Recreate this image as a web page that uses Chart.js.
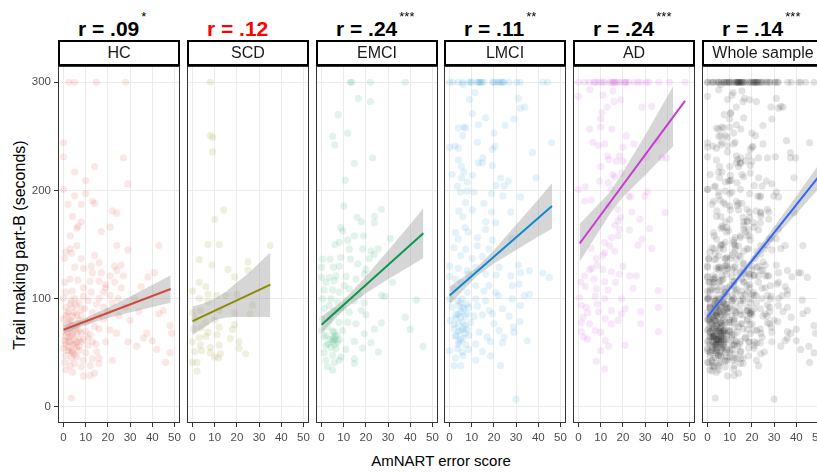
<!DOCTYPE html>
<html>
<head>
<meta charset="utf-8">
<script src="https://cdn.jsdelivr.net/npm/chart.js@4.4.1/dist/chart.umd.min.js"></script>
<style>
    html, body { margin: 0; padding: 0; background: #fff; overflow: hidden; }
    body { width: 817px; height: 474px; position: relative; font-family: "Liberation Sans", Arial, sans-serif; }
    canvas { position: absolute; }
    .strip { position: absolute; top: 40px; width: 122px; height: 26px; box-sizing: border-box; border: 2px solid #000; background: #fff;
             text-align: center; font-size: 16px; line-height: 22px; color: #1a1a1a; z-index: 2; white-space: nowrap; overflow: hidden; }
    .rlab { position: absolute; top: 18px; font-weight: bold; font-size: 21px; line-height: 21px; white-space: nowrap; color: #000; }
    .rlab span { font-size: 13px; font-weight: normal; position: relative; top: -15px; margin-left: 2px; }
    .xtitle { position: absolute; left: 341px; width: 200px; top: 452px; text-align: center; font-size: 15px; line-height: 18px; }
    .ytitle { position: absolute; left: -130px; top: 235px; width: 300px; height: 20px; line-height: 20px; text-align: center;
              font-size: 16px; transform: rotate(-90deg); }
</style>
</head>
<body>
<div class="ytitle">Trail making part-B (seconds)</div>
<div class="xtitle">AmNART error score</div>

<script>
// ---------- data ----------
const groups = ['HC', 'SCD', 'EMCI', 'LMCI', 'AD', 'Whole sample'];
const rLabels = ['r = .09', 'r = .12', 'r = .24', 'r = .11', 'r = .24', 'r = .14'];
const rStars = ['*', '', '***', '**', '***', '***'];
const xTicks = [0, 10, 20, 30, 40, 50];
const yTicks = [0, 100, 200, 300];

// [AmNART errors, TMT-B seconds]
const hcPoints = [
    [2.4,300],[5,300],[14.8,300],[28,300],
    [0,244],[0,231],[5,217],[14,222],[27,230],[10,209],[29,206],[0,201],[5,195],[10,197],[13,190],[14,188],[2,187],[8,187],
    [4,176],[22,181],[24,179],[8,171],[6.5,167],[6,165],[21,166],[17,162],[3,158],[6,149],[3,146],[1,143],[3.5,142],[24,149],
    [29,145],[43,149],[0.5,137],[8,137],[14,140],[5,129],[9,128],[16,133],[12.5,130],[23,130],[26,131],[13,124],[17,124],
    [21,121],[24,126],[27,121],[41,124],[0.5,115],[3,118],[6.5,117],[12,116],[16,116],[19,113],[35,111],[1,106],[4,107],
    [9,110],[12.5,106],[18,106],[21,103],[24.6,100],[0,100],[3.5,98],[7,96],[11,98],[15,95],[1,92],[5.7,94],[9.5,91],[2,86],
    [5,87],[8,84],[13,87],[18,81],[43,86],[45,89],[0,81],[3.5,79],[6.5,77],[10,78],[16,72],[21,71],[24,68],[48,75],[48.7,68],
    [1,69],[4,66],[7,70.5],[12,66.6],[0.5,61],[3,60],[5,57],[8,60],[11,57],[14.5,58],[19,60],[29,60],[33,56],[36,63.5],
    [37.5,68],[40,61],[0,54],[2,52],[4,51],[7,52],[10,50],[15,51],[42,53],[1,47.5],[3.5,45],[6,46],[9,43],[13,44.5],[16,45],
    [22,43],[48,50],[0.5,41],[3,38],[5,40],[8,37],[12,38],[16,40],[46,41],[1,34],[4,32],[9,28.5],[12,29],[14,31],[3.5,8],
    [2,70],[3,65],[4,75],[5,62],[6,68],[1,58],[2,55],[4,58],[6,55],[3,80],[5,72],[7,62],[2,64],[3,72],[4,50],[1,75],[8,68],
    [9,62],[6,85],[2,88],[4,92],[7,80],[3,95],[5,100],[1,84],[10,70],[11,64],[12,80],[8,90],[9,102],[13,60],[14,74],[16,85],
    [18,92],[20,88],[22,96],[25,84],[26,110],[28,92],[30,80],[32,100],[34,88],[38,120],[16,100],[19,110],[23,115],[1,65],
    [2,60],[3,52],[4,68],[5,48],[6,60],[7,56],[2,78],[4,84],[6,74]
];
const scdPoints = [
    [8,300],[8,250.6],[9,249],[9,235.6],[14,182],[10,173],[7,150],[12,150],[35,149],[3,136],[8.7,131],[16,127],[25,134],
    [25,126],[19,120],[3,115],[6,111],[0,107],[7,104],[11,103],[15,103],[20,104],[3,100],[7,97],[27,94],[26,86],[0,87],
    [3.5,89],[12,89],[19,87],[1,81],[6,78],[10,80],[19,76],[18,71.5],[0.5,72],[4,73],[7,69],[12,73.6],[3,64],[6,65],[11,66.6],
    [17,63],[0,60],[3.5,57],[8,55],[12,57],[21,60],[21,54],[1,51],[4,52],[8,50],[12.5,49],[24,49],[10,46],[11.7,45],[0,41],
    [2,41],[2,33]
];
const emciPoints = [
    [13,300],[13.6,300],[22,300],[37.7,300],[16.6,285],[22,282],[7.5,270],[5,250],[11.8,253],[6,242],[14.8,225],[23,230],
    [10.7,209.5],[10,185.6],[27,182.5],[16,175],[18,171],[24,176],[23.8,170],[8.7,165.6],[9.5,162.6],[14.8,158],[19,158],
    [31,155.5],[11.8,154],[6,150],[8,152],[12.5,145.7],[18.5,146],[22.3,144],[25.6,146],[0.5,136.5],[3.8,136.5],[8.7,138],
    [13,136.5],[23.8,141],[21.5,137],[0,129],[5.4,129],[8,130],[16.3,132],[20,127],[0,119.6],[3.5,119.6],[6.5,121],[11,120.5],
    [19.3,122.7],[2,115],[5.7,116.6],[10.3,112],[15.5,118],[32,115],[1.2,108],[5,108],[8,106],[12.5,109],[17,104],[27,103],
    [28.6,102],[42.7,98.8],[0.5,99.7],[4.2,99.7],[7.2,96.6],[11,98],[14.8,98],[19.3,96],[1.2,91],[3.5,93.6],[5.7,89],[8.7,90.5],
    [12.5,87.4],[18,89],[20,85],[0.5,81],[3.5,79.8],[8,78],[11.8,78],[15.5,76.7],[27,77.6],[37.7,82.8],[40,71.5],[0,70.5],
    [2.7,73.6],[5.7,69],[9.5,70.5],[23.8,72],[19.3,67.5],[1.2,64.4],[5,63.5],[6,62],[7.2,59.8],[14.8,60.4],[22.3,59.2],
    [45.7,55.8],[2,56.7],[4.2,55],[6.5,53.7],[11,53],[18.5,54.3],[25.6,50.6],[1.2,50],[5,47.5],[8.7,46],[14.8,44.5],[2,43],
    [5.7,40.8],[8,43],[14.8,40],[2.7,36.8],[5,34],
    [5,60],[6,58],[6,65],[4,62],[7,66],[5,70],[3,58],[8,62],[2,66],[4,84],[7,88],[10,92]
];
const lmciPoints = [
    [0,300],[1.5,300],[4,300],[6,300],[8.7,300],[9.5,300],[12.5,300],[13.6,300],[14.5,300],[15.5,300],[19.3,300],[20.8,300],
    [22.6,300],[23.5,300],[24.6,300],[26.8,300],[30.2,300],[31.7,300],[42,300],[44.2,300],[10,300],[13,300],[14,300],[20,300],
    [22,300],[24,300],
    [6,298],[11.5,290.5],[31,285],[9,284],[32,276],[34,277],[10.3,271],[16.3,267],[29,266],[4,257.7],[6.5,258.6],[7.2,257.7],
    [13,260.7],[25,260],[20,253],[6,250.6],[12.5,244.5],[0,240],[2.4,241],[4,239],[19.3,238],[20.5,240.8],[37.4,235],[46,244],
    [15,230],[4,228],[13,225.5],[14.8,225.5],[19.3,223],[5.4,222],[6.5,217],[10.3,214],[1.2,214.7],[5.4,211.7],[23,211.7],
    [39,211.7],[26.5,208.6],[8,207.7],[3.5,204],[21,204.6],[24.6,204],[5,198.5],[8,199.4],[11,198.5],[19,197],[24,194.8],
    [32,194],[15.5,188],[7.2,188.7],[4.2,181],[10.3,182],[19,180],[27.6,180],[6,175.8],[16.3,171],[20.8,170],[7,165.6],
    [16.3,164],[2.7,161],[8.4,161.6],[4,155],[12.5,156.4],[19.3,154],[28,155.5],[2,147],[7.2,145.7],[12.5,148.8],[17.8,146],
    [5,139.6],[10.3,137],[14.8,139],[0,130],[4,128],[8,125.8],[11.8,128.8],[22.3,128.8],[31,131],[0,120.5],[2.7,118],
    [8.4,122.7],[16.3,122.7],[21,121.8],[27.6,121],[32,124],[36,125.8],[42,123.6],[45,119.6],[5,115],[11.8,112],[17.8,112],
    [28.3,112],[31.4,113.5],[2,109],[8,105.8],[15.5,107],[20.8,105.8],[22,102.8],[33.6,102.8],[36,104],[0,99.7],[3.5,98],
    [5.7,99.7],[11.8,99.7],[16.3,98],[28.3,99.7],[1.2,92],[4.2,93.6],[6.5,90.5],[8.7,92],[12.5,93],[18,89],[23.8,90.5],
    [32,93.6],[2.7,85],[5,82.8],[8,86],[11,83.7],[14.8,85],[19.3,86],[26.8,83.7],[0.5,79.8],[4,76.7],[7,75],[9.5,78],[20,76.7],
    [31.7,78.8],[28.8,73.6],[2,72],[5,70.5],[8,72],[13.3,69],[22.3,70.5],[29,69],[2.7,65],[6,63.5],[8.7,66],[17,64.4],
    [24.6,64.4],[35,61],[4.2,60],[7.2,57.4],[11.8,58],[18.5,60],[23.8,59],[0,52],[3.5,53.7],[5.7,50.6],[8.7,53],[14.8,51],
    [6,47],[2.7,45],[11.8,43],[18.5,47],[23,38],[2,38],[5,38],[30,7],
    [4,70],[5,88],[6,78],[3,82],[7,68],[5,62],[6,92],[4,58],[7,84],[3,66],[8,95],[2,76],[6,72],[5,96],[4,86]
];
const adPoints = [
    [0,300],[2.7,300],[5,300],[7,300],[7.5,300],[8.7,300],[11.8,300],[14,300],[14.8,300],[15.5,300],[16.3,300],[17,300],
    [19,300],[20.8,300],[21.5,300],[22.6,300],[25.3,300],[26.8,300],[28.3,300],[30.6,300],[31.7,300],[36.2,300],[41,300],
    [48,300],[10,300],[11,300],[16,300],[18,300],[21,300],
    [5,293],[15.5,292],[0,287],[11,288],[19,283.7],[16,282],[13,277],[28.6,277],[33,277.6],[10.5,272],[10,266],[10,258.6],
    [5,256.7],[15,256.7],[21.6,250.6],[6.5,244.5],[9,241.4],[11.8,243],[20,240],[25,243],[35.6,246],[13,232],[18.5,232],
    [37.4,230],[39.7,230],[30.6,231],[13.6,228.5],[10,222],[17,227],[20,227],[15.5,214.7],[16.3,212.6],[19.3,216],[9.5,208.6],
    [13.3,207],[3,203.4],[0,201],[14.8,201],[31,198.5],[2.7,190],[5.7,191],[22.6,194.8],[23.5,194],[29.8,194.8],[13.3,186],
    [39,179.4],[17.8,182.5],[19,175],[24,180],[17.8,171.8],[27.6,173.3],[16.3,167.8],[18.5,164],[23,163.5],[32,164.7],
    [14.8,156.4],[17.8,158],[28.6,155],[11.8,151.8],[14,148.8],[26.8,149.4],[33,146.3],[5.7,146.3],[11.8,142.6],[16.3,144],
    [8,137],[11,140],[5,126.7],[6,128],[8.4,131],[11,127],[20,129.8],[2.7,121],[14.8,124.8],[18.5,122.7],[23,121],[26,121],
    [1,115],[7,118],[11.8,115.6],[16.6,115],[24.6,109.5],[36,107.4],[3,111],[8,109],[13.3,108],[0.5,101],[7.5,102],[11.8,99.7],
    [19.3,99.7],[1.2,94],[3.5,92],[8.4,95],[14.8,89],[21,90.5],[36,92],[4,86.8],[9,88],[19.3,86],[28,88],[2,82.8],[12,81.3],
    [17.8,79.8],[14.8,76.7],[1.2,77.6],[5,76.7],[28,76.7],[1.2,69.6],[7.5,70.5],[10,69],[36,69.6],[2.4,64.4],[4,62.3],
    [12,61.3],[13.6,56],[21,56.7],[10,52],[8,42],[11.8,35]
];
const wholePoints = [...hcPoints, ...scdPoints, ...emciPoints, ...lmciPoints, ...adPoints];
const allPoints = [hcPoints, scdPoints, emciPoints, lmciPoints, adPoints, wholePoints];

// regression line ends [x, y]
const hcFit = [[0, 71.2], [48.3, 108.9]];
const scdFit = [[0, 79.1], [35.1, 112.9]];
const emciFit = [[0, 75.8], [45.9, 160.4]];
const lmciFit = [[0, 102.8], [46.2, 185.6]];
const adFit = [[0.5, 150.9], [48, 282.8]];
const wholeFit = [[0, 83.4], [50, 212.5]];
const allFits = [hcFit, scdFit, emciFit, lmciFit, adFit, wholeFit];

// confidence band [x, lower, upper]
const hcBand = [[0,67.3,75.1],[8,74.4,80.4],[20,82.1,91.5],[30,87.2,102],[40,92.2,112.6],[48.3,96.2,121.6]];
const scdBand = [[0,66,93],[5,73,95.5],[10,80,100],[15,82.5,106],[20,83,115],[25,83,123],[30,83,133],[35.1,83,142.5]];
const emciBand = [[0,68.1,83.5],[10,89.7,98.7],[20,105,120.4],[30,117.8,144.4],[40,130.2,168.8],[45.9,137.4,183.4]];
const lmciBand = [[0,94.6,111],[12,120.3,128.3],[20,132.4,144.6],[30,145,168.2],[40,157.3,191.7],[46.2,164.6,206.6]];
const adBand = [[0.5,134,169],[14,178,198],[20,194,217],[30,214,251],[42.7,240.8,296.6]];
const wholeBand = [[0,79,88],[10,106.5,111.9],[20,131.5,138.5],[30,155.5,166.3],[40,178.5,194.7],[50,201.5,223.5]];
const allBands = [hcBand, scdBand, emciBand, lmciBand, adBand, wholeBand];

// ---------- styling ----------
const pointColors = ['rgba(215,75,60,0.13)', 'rgba(150,150,40,0.14)', 'rgba(20,160,90,0.12)',
                     'rgba(30,150,215,0.12)', 'rgba(200,70,210,0.12)', 'rgba(0,0,0,0.11)'];
const lineColors = ['#d24a3c', '#8c8c00', '#07994e', '#0a8ad2', '#c83ad2', '#3366ff'];
const panelLeft = [58, 187, 316, 444, 573, 702];
const panelW = 122;
const FONT = "'Liberation Sans', Arial, sans-serif";

const framePlugin = {
    id: 'frame',
    afterDraw(chart) {
        const { ctx, chartArea: a } = chart;
        ctx.save();
        ctx.strokeStyle = '#333333';
        ctx.lineWidth = 1;
        ctx.strokeRect(Math.round(a.left) + 0.5, Math.round(a.top) + 0.5, Math.round(a.width) - 1, Math.round(a.height) - 1);
        ctx.restore();
    }
};

const xy = arr => arr.map(p => ({ x: p[0], y: p[1] }));

function makePanel(i) {
    const first = i === 0;
    const left = panelLeft[i];

    // strip + r label
    const strip = document.createElement('div');
    strip.className = 'strip';
    strip.style.left = left + 'px';
    strip.textContent = groups[i];
    document.body.appendChild(strip);

    const lab = document.createElement('div');
    lab.className = 'rlab';
    lab.style.left = (left + 20) + 'px';
    if (i === 1) lab.style.color = '#ff0000';
    lab.textContent = rLabels[i];
    if (rStars[i]) {
        const s = document.createElement('span');
        s.textContent = rStars[i];
        lab.appendChild(s);
    }
    document.body.appendChild(lab);

    const canvas = document.createElement('canvas');
    const cw = first ? 58 + panelW + 8 : panelW + 16;
    canvas.width = cw;
    canvas.height = 390;
    canvas.style.left = (first ? 0 : left - 8) + 'px';
    canvas.style.top = '60px';
    document.body.appendChild(canvas);

    const band = allBands[i];
    new Chart(canvas.getContext('2d'), {
        type: 'line',
        data: {
            datasets: [
                {
                    data: xy(allFits[i]), borderColor: lineColors[i], borderWidth: 2,
                    pointRadius: 0, fill: false, order: 0
                },
                {
                    data: band.map(b => ({ x: b[0], y: b[2] })), borderWidth: 0, borderColor: 'rgba(0,0,0,0)',
                    pointRadius: 0, fill: '+1', backgroundColor: 'rgba(153,153,153,0.4)', order: 1
                },
                {
                    data: band.map(b => ({ x: b[0], y: b[1] })), borderWidth: 0, borderColor: 'rgba(0,0,0,0)',
                    pointRadius: 0, fill: false, order: 1
                },
                {
                    data: xy(allPoints[i]), showLine: false, pointRadius: 3.6, pointBorderWidth: 0,
                    pointBackgroundColor: pointColors[i], order: 2
                }
            ]
        },
        options: {
            responsive: false,
            animation: false,
            devicePixelRatio: 1,
            events: [],
            layout: { autoPadding: false, padding: { left: first ? 0 : 8, right: 8, top: 6, bottom: 0 } },
            plugins: { legend: { display: false }, tooltip: { enabled: false } },
            scales: {
                x: {
                    type: 'linear', min: -2.5, max: 52.5,
                    afterBuildTicks: s => { s.ticks = xTicks.map(v => ({ value: v })); },
                    afterFit: s => { s.height = 27; s.paddingLeft = 0; s.paddingRight = 0; },
                    grid: { color: '#ebebeb', lineWidth: 1, drawTicks: true, tickLength: 4, tickColor: '#333333' },
                    border: { display: false },
                    ticks: { color: '#4d4d4d', font: { family: FONT, size: 11.5 }, padding: 4, maxRotation: 0, autoSkip: false }
                },
                y: {
                    type: 'linear', min: -15, max: 315,
                    afterBuildTicks: s => { s.ticks = yTicks.map(v => ({ value: v })); },
                    afterFit: s => { s.width = first ? 58 : 0; s.paddingTop = 0; s.paddingBottom = 0; },
                    grid: { color: '#ebebeb', lineWidth: 1, drawTicks: first, tickLength: 4, tickColor: '#333333' },
                    border: { display: false },
                    ticks: { display: first, color: '#4d4d4d', font: { family: FONT, size: 11.5 }, padding: 3 }
                }
            }
        },
        plugins: [framePlugin]
    });
}

groups.forEach((g, i) => makePanel(i));
</script>
</body>
</html>
